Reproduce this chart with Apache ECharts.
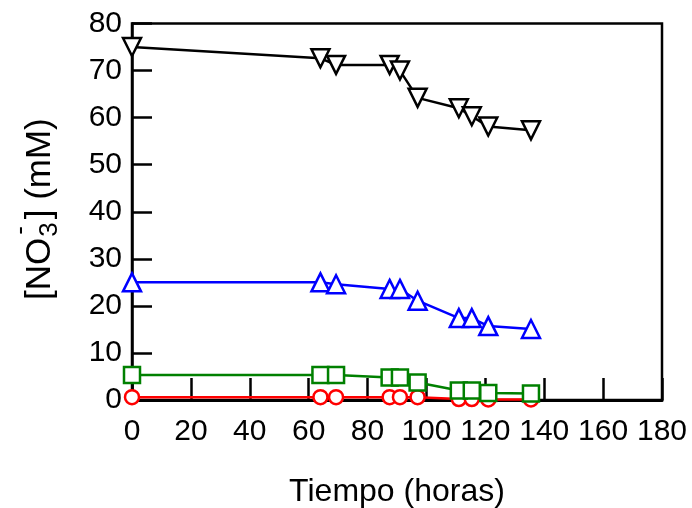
<!DOCTYPE html>
<html>
<head>
<meta charset="utf-8">
<script src="https://cdn.jsdelivr.net/npm/echarts@6/dist/echarts.min.js"></script>
<style>
  html, body { margin: 0; padding: 0; background: #fff; }
  #chart { width: 692px; height: 508px; }
</style>
</head>
<body>
<div id="chart"></div>
<script>
// Sampling times (hours)
var tiempo = [0, 64, 69.3, 87.5, 91, 97, 111, 115.4, 121, 135.5];

// Nitrate concentration (mM) for each run
var serieNegra = [75, 72.6, 71.2, 71.2, 70.0, 64.2, 62.0, 60.3, 58.1, 57.3];
var serieAzul  = [25, 25, 24.6, 23.6, 23.6, 21.1, 17.4, 17.4, 15.7, 15.1];
var serieVerde = [5.3, 5.3, 5.3, 4.8, 4.8, 3.7, 2.0, 2.0, 1.5, 1.4];
var serieRoja  = [0.6, 0.6, 0.6, 0.6, 0.6, 0.6, 0.2, 0.2, 0.1, 0.1];

var xTicks = [0, 20, 40, 60, 80, 100, 120, 140, 160, 180];
var yTicks = [0, 10, 20, 30, 40, 50, 60, 70, 80];

var FONT = '"Liberation Sans", Arial, sans-serif';

function pares(ys) {
  return tiempo.map(function (t, i) { return [t, ys[i]]; });
}

function serie(ys, color, symbol, size, rotate) {
  return {
    type: 'line',
    data: pares(ys),
    symbol: symbol,
    symbolSize: size,
    symbolRotate: rotate || 0,
    showAllSymbol: true,
    clip: false,
    lineStyle: { color: color, width: 2.5 },
    itemStyle: { color: '#fff', borderColor: color, borderWidth: 2.5 },
    emphasis: { disabled: true },
    animation: false
  };
}

var chart = echarts.init(document.getElementById('chart'), null, { renderer: 'canvas' });

var F = 35;     // y title font size
var FS = 26;    // subscript size
var wNO = 1.778 * F;

chart.setOption({
  backgroundColor: '#fff',
  animation: false,
  grid: {
    left: 132, right: 30, top: 23.5, bottom: 108,
    outerBoundsMode: 'none',
    containLabel: false,
    show: true, borderColor: '#000', borderWidth: 2.5, backgroundColor: 'transparent'
  },
  xAxis: {
    type: 'value',
    min: xTicks[0], max: xTicks[xTicks.length - 1], interval: 20,
    name: 'Tiempo (horas)', nameLocation: 'middle', nameGap: 76,
    nameTextStyle: { fontFamily: FONT, fontSize: 32, color: '#000' },
    axisLine: { show: true, lineStyle: { color: '#000', width: 3 } },
    axisTick: { show: true, inside: true, length: 22, lineStyle: { color: '#000', width: 2.5 } },
    axisLabel: { fontFamily: FONT, fontSize: 30, color: '#000', margin: 17 },
    splitLine: { show: false }
  },
  yAxis: {
    type: 'value',
    min: yTicks[0], max: yTicks[yTicks.length - 1], interval: 10,
    axisLine: { show: true, lineStyle: { color: '#000', width: 2.5 } },
    axisTick: { show: true, inside: true, length: 20, lineStyle: { color: '#000', width: 2.5 } },
    axisLabel: { fontFamily: FONT, fontSize: 30, color: '#000', margin: 10 },
    splitLine: { show: false }
  },
  graphic: [{
    type: 'group',
    x: 40, y: 300,
    rotation: Math.PI / 2,
    children: [
      { type: 'text', x: 0, y: 0,
        style: { text: '[NO', font: F + 'px ' + FONT, fill: '#000', verticalAlign: 'middle', align: 'left' } },
      { type: 'text', x: wNO + 1, y: 10,
        style: { text: '3', font: FS + 'px ' + FONT, fill: '#000', verticalAlign: 'middle', align: 'left' } },
      { type: 'text', x: wNO + 3, y: -19,
        style: { text: '-', font: FS + 'px ' + FONT, fill: '#000', verticalAlign: 'middle', align: 'left' } },
      { type: 'text', x: wNO + 0.556 * FS + 4, y: 0,
        style: { text: '] (mM)', font: F + 'px ' + FONT, fill: '#000', verticalAlign: 'middle', align: 'left' } }
    ]
  }],
  series: [
    serie(serieRoja, '#ff0000', 'circle', 14),
    serie(serieVerde, '#008000', 'rect', 16),
    serie(serieAzul, '#0000ff', 'triangle', 18),
    serie(serieNegra, '#000000', 'triangle', 18, 180)
  ]
});
</script>
</body>
</html>
